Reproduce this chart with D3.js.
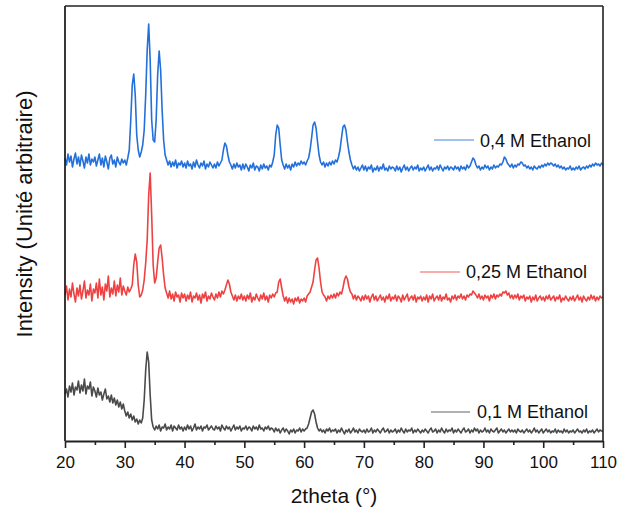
<!DOCTYPE html>
<html>
<head>
<meta charset="utf-8">
<script src="https://cdn.jsdelivr.net/npm/d3@7/dist/d3.min.js"></script>
<style>
  html, body { margin: 0; padding: 0; background: #fff; }
  svg { display: block; font-family: "Liberation Sans", Arial, sans-serif; }
</style>
</head>
<body>
<svg id="chart" width="621" height="511"></svg>
<script>
// 2theta sampling grid (degrees), step 0.25 from 20 to 110
const angleStart = 20, angleStep = 0.25, angleCount = 361;
const xTicks = [20, 30, 40, 50, 60, 70, 80, 90, 100, 110];
const xMinorTicks = [25, 35, 45, 55, 65, 75, 85, 95, 105];
const seriesNames = ["0,4 M Ethanol", "0,25 M Ethanol", "0,1 M Ethanol"];
const seriesColors = ["#2370db", "#ef4141", "#4a4a4a"];

// Intensity (arbitrary units), one value per grid angle
const ethanol04 = [
  283,276,287,279,285,274,282,288,277,284,275,286,280,273,284,278,287,276,282,279,
  284,275,281,287,276,283,274,285,279,272,283,286,277,281,274,284,279,276,282,278,
  281,276,283,291,321,356,367,346,306,291,284,289,296,311,346,391,417,381,321,301,
  299,321,366,390,371,331,301,286,281,276,280,274,279,275,281,273,278,276,280,274,
  278,273,280,275,277,272,279,274,281,276,273,278,275,280,272,277,274,279,276,273,
  277,273,279,275,278,281,291,298,295,286,279,276,272,277,273,278,274,276,271,277,
  272,277,274,270,276,273,278,271,275,274,270,276,272,277,273,275,271,276,274,279,
  286,306,316,313,296,281,276,272,277,273,276,271,277,274,279,275,278,276,280,277,
  279,276,280,283,291,303,316,319,313,299,286,279,276,279,274,278,275,279,276,280,
  277,281,279,284,291,303,314,316,311,299,289,281,276,272,275,271,274,270,273,276,
  271,275,270,274,272,276,269,273,271,275,270,274,272,277,271,273,270,275,272,274,
  273,270,275,271,274,269,273,276,271,274,270,273,275,271,274,272,276,270,273,271,
  274,270,273,276,271,274,270,273,272,275,271,276,273,270,274,272,275,271,274,273,
  271,275,272,274,270,275,272,274,271,276,273,275,279,283,281,276,273,275,271,274,
  272,276,273,275,271,274,272,276,273,275,274,277,276,279,284,282,278,276,274,277,
  273,276,274,277,276,279,278,275,276,273,275,272,274,271,275,273,272,275,273,276,
  274,277,275,278,276,278,277,275,277,274,276,273,275,272,274,271,273,272,275,271,
  273,271,274,272,275,271,273,274,272,275,273,276,274,277,275,278,276,277,275,278,
  276
];
const ethanol025 = [
  146,155,141,152,144,158,147,139,153,145,156,142,150,160,143,151,146,157,140,152,
  148,158,143,162,146,154,141,157,150,165,144,153,147,160,145,156,149,163,146,155,
  150,146,154,149,152,156,176,187,179,156,144,146,151,161,178,201,246,268,226,176,
  158,163,179,193,196,183,166,153,148,143,150,142,147,140,149,144,146,139,148,143,
  147,140,146,142,149,139,145,143,148,141,146,138,147,143,149,140,145,142,148,144,
  141,147,143,149,144,150,147,151,156,161,157,149,145,141,146,140,145,142,147,141,
  145,140,146,142,148,139,144,141,147,143,140,146,142,148,141,145,139,146,143,147,
  144,148,149,159,162,153,145,140,144,138,143,139,142,137,143,140,144,138,142,140,
  143,139,145,147,149,154,159,171,181,183,173,159,149,146,144,140,145,142,146,143,
  147,143,148,145,149,147,153,161,165,162,154,149,147,142,146,141,145,143,140,145,
  141,146,142,145,139,144,147,141,145,140,143,146,141,144,139,145,142,147,140,144,
  142,146,140,145,143,139,146,141,144,147,140,143,145,141,146,139,144,142,145,140,
  144,141,146,139,145,142,147,140,143,145,141,146,140,144,142,147,141,143,139,145,
  142,146,141,145,143,147,142,145,141,146,144,147,146,150,148,146,143,147,142,145,
  141,146,143,145,140,146,143,147,142,146,144,147,145,149,148,150,146,148,143,146,
  142,146,143,147,141,145,143,146,140,144,142,145,139,144,141,146,140,143,145,141,
  144,140,145,142,146,141,143,145,140,144,142,146,139,143,141,145,142,140,144,141,
  145,140,143,146,141,144,139,145,142,140,144,141,146,142,145,140,144,141,145,143,
  144
];
const ethanol01 = [
  47,52,44,55,49,58,46,54,51,60,48,56,50,62,47,55,52,59,45,54,
  50,44,53,46,49,41,47,52,42,45,39,46,38,43,36,41,34,39,32,37,
  30,25,29,23,27,21,25,19,22,17,21,18,23,41,71,89,79,46,21,14,
  11,15,12,16,10,14,13,17,11,14,12,16,10,15,13,11,16,12,14,10,
  14,11,16,12,15,10,13,17,11,14,12,15,10,14,13,16,11,13,15,12,
  11,15,12,14,10,16,13,11,15,12,14,10,13,16,11,14,12,15,10,13,
  12,15,11,14,13,10,15,12,14,11,16,12,13,10,14,12,15,11,13,12,
  9,13,10,12,8,11,13,9,12,10,7,11,9,12,8,11,10,13,9,12,
  10,12,13,17,23,29,31,27,19,13,10,12,9,11,8,12,10,13,9,11,
  10,12,8,11,9,13,10,7,11,9,12,8,10,13,9,11,8,12,10,9,
  11,8,12,9,10,13,8,11,9,12,10,8,11,13,9,10,12,8,11,9,
  10,12,8,11,9,13,10,8,12,9,11,10,13,8,11,9,12,10,8,11,
  9,12,10,8,11,13,9,10,12,8,11,9,13,10,8,12,9,11,10,13,
  8,11,9,12,10,8,11,13,9,10,12,8,11,9,13,10,12,8,11,9,
  10,13,9,11,8,12,10,9,11,13,8,10,12,9,11,8,10,12,9,11,
  9,11,8,12,10,9,11,8,10,12,9,11,8,10,13,9,11,8,10,12,
  8,10,12,9,11,8,10,9,12,8,11,9,10,8,12,9,11,8,10,9,
  11,8,10,12,9,10,8,11,9,12,8,10,9,11,8,10,12,9,11,10,
  10
];

const twoTheta = d3.range(angleCount).map(i => angleStart + i * angleStep);
const seriesValues = [ethanol04, ethanol025, ethanol01];

const svg = d3.select("#chart");
const margin = { left: 65, right: 18, top: 6, bottom: 70 };
const W = 621, H = 511;
const x = d3.scaleLinear().domain([20, 110]).range([margin.left, W - margin.right]);
const y = d3.scaleLinear().domain([0, 435]).range([H - margin.bottom, margin.top]);

// series lines
const line = d3.line()
  .x(d => x(d[0]))
  .y(d => y(d[1]));

seriesValues.forEach((vals, k) => {
  const n = Math.min(vals.length, twoTheta.length);
  const pts = d3.range(n).map(i => [twoTheta[i], vals[i]]);
  svg.append("path")
    .datum(pts)
    .attr("fill", "none")
    .attr("stroke", seriesColors[k])
    .attr("stroke-width", 1.6)
    .attr("stroke-linejoin", "round")
    .attr("d", line);
});

// frame: top and right
svg.append("line").attr("x1", x(20)).attr("x2", x(110)).attr("y1", y(435)).attr("y2", y(435))
  .attr("stroke", "#222").attr("stroke-width", 1.6);
svg.append("line").attr("x1", x(110)).attr("x2", x(110)).attr("y1", y(435)).attr("y2", y(0))
  .attr("stroke", "#222").attr("stroke-width", 1.6);
// left axis (no ticks)
svg.append("line").attr("x1", x(20)).attr("x2", x(20)).attr("y1", y(435)).attr("y2", y(0))
  .attr("stroke", "#222").attr("stroke-width", 1.8);

// bottom axis
const xAxis = d3.axisBottom(x).tickValues(xTicks).tickSize(7).tickPadding(8).tickSizeOuter(0)
  .tickFormat(d3.format("d"));
const gx = svg.append("g").attr("transform", `translate(0,${y(0)})`).call(xAxis);
gx.select(".domain").attr("stroke", "#222").attr("stroke-width", 1.8);
gx.selectAll(".tick line").attr("stroke", "#222").attr("stroke-width", 1.6);
gx.selectAll(".tick text").attr("font-size", 17).attr("fill", "#111")
  .attr("font-family", "'Liberation Sans', Arial, sans-serif");

const xMinor = d3.axisBottom(x).tickValues(xMinorTicks).tickSize(4).tickFormat("");
const gm = svg.append("g").attr("transform", `translate(0,${y(0)})`).call(xMinor);
gm.select(".domain").remove();
gm.selectAll(".tick line").attr("stroke", "#222").attr("stroke-width", 1.6);

// axis titles
svg.append("text")
  .attr("x", (x(20) + x(110)) / 2).attr("y", 503)
  .attr("text-anchor", "middle").attr("font-size", 21).attr("fill", "#111")
  .text("2theta (°)");
svg.append("text")
  .attr("transform", "translate(32,214) rotate(-90)")
  .attr("text-anchor", "middle").attr("font-size", 22).attr("fill", "#111")
  .text("Intensity (Unité arbitraire)");

// legends
const legendPos = [
  { x1: 434, x2: 474, ly: 140, tx: 480, ty: 147 },
  { x1: 420, x2: 460, ly: 272, tx: 466, ty: 278 },
  { x1: 431, x2: 470, ly: 412, tx: 477, ty: 418 }
];
legendPos.forEach((p, k) => {
  svg.append("line").attr("x1", p.x1).attr("x2", p.x2).attr("y1", p.ly).attr("y2", p.ly)
    .attr("stroke", seriesColors[k]).attr("stroke-width", 1.2).attr("stroke-opacity", 0.85);
  svg.append("text").attr("x", p.tx).attr("y", p.ty)
    .attr("font-size", 18).attr("fill", "#111").text(seriesNames[k]);
});
</script>
</body>
</html>
